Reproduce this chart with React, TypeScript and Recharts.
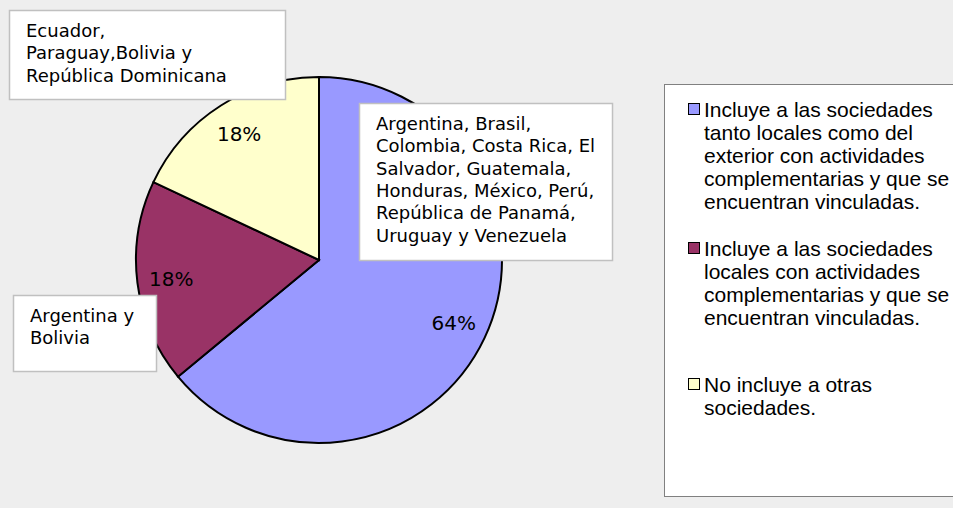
import { PieChart, Pie, Cell, Legend } from "recharts";

// Categories (legend text)
const categories = [
  "Incluye a las sociedades\ntanto locales como del\nexterior con actividades\ncomplementarias y que se\nencuentran vinculadas.",
  "Incluye a las sociedades\nlocales con actividades\ncomplementarias y que se\nencuentran vinculadas.",
  "No incluye a otras\nsociedades.",
];

// Share of countries (%)
const shares = [64, 18, 18];

// Country lists shown in the callout boxes
const countryLabels = [
  ["Argentina, Brasil,", "Colombia, Costa Rica, El", "Salvador, Guatemala,", "Honduras, México, Perú,", "República de Panamá,", "Uruguay y Venezuela"],
  ["Argentina y", "Bolivia"],
  ["Ecuador,", "Paraguay,Bolivia y", "República Dominicana"],
];

const COLORS = ["#9999ff", "#993366", "#ffffcc"];

// callout box placement, per slice
const BOXES = [
  { x: 359, y: 103, w: 253, h: 157 },
  { x: 13, y: 295, w: 143, h: 76 },
  { x: 9, y: 10, w: 276, h: 89 },
];

// spacing before each legend entry
const LEGEND_GAPS = [13, 24, 44];

const data = categories.map((name, i) => ({
  name,
  value: shares[i],
  countries: countryLabels[i],
}));

const RAD = Math.PI / 180;

const renderLabel = (props: any) => {
  const { cx, cy, midAngle, index, value } = props;
  const r = 149;
  const x = cx + r * Math.cos(-midAngle * RAD);
  const y = cy + r * Math.sin(-midAngle * RAD);
  const box = BOXES[index];
  const lines = data[index].countries;
  return (
    <g>
      <text
        x={x}
        y={y}
        textAnchor="middle"
        dominantBaseline="central"
        fill="#000"
        style={{ fontFamily: "DejaVu Sans", fontSize: 20 }}
      >
        {`${value}%`}
      </text>
      <rect x={box.x + 0.5} y={box.y + 0.5} width={box.w} height={box.h} fill="#fff" stroke="#c0c0c0" strokeWidth={1.5} />
      {lines.map((ln: string, k: number) => (
        <text
          key={k}
          x={box.x + 17}
          y={box.y + 27 + k * 22.3}
          fill="#000"
          style={{ fontFamily: "DejaVu Sans", fontSize: 18 }}
        >
          {ln}
        </text>
      ))}
    </g>
  );
};

const renderLegend = () => (
  <div
    style={{
      width: 289,
      height: 413,
      background: "#fff",
      borderTop: "1px solid #808080",
      borderLeft: "1px solid #808080",
      borderBottom: "1px solid #808080",
      boxSizing: "border-box",
      fontFamily: "'Liberation Sans', Arial, sans-serif",
      fontSize: 21,
      lineHeight: "23px",
      color: "#000",
    }}
  >
    {data.map((d, i) => (
      <div key={i} style={{ display: "flex", alignItems: "flex-start", marginTop: LEGEND_GAPS[i] }}>
        <div
          style={{
            width: 10,
            height: 10,
            marginTop: 5,
            marginLeft: 23,
            marginRight: 4,
            border: "1.5px solid #000",
            background: COLORS[i],
            flexShrink: 0,
          }}
        />
        <div style={{ whiteSpace: "pre-line" }}>{d.name}</div>
      </div>
    ))}
  </div>
);

export default function App() {
  return (
    <div
      style={{
        position: "absolute",
        left: 0,
        top: 0,
        width: 953,
        height: 508,
        background: "#eeeeee",
        overflow: "hidden",
      }}
    >
      <PieChart width={953} height={508} margin={{ top: 0, right: 0, bottom: 0, left: 0 }}>
        <Pie
          data={data}
          dataKey="value"
          nameKey="name"
          cx={319}
          cy={260}
          outerRadius={183}
          startAngle={90}
          endAngle={-270}
          stroke="#000"
          strokeWidth={2}
          label={renderLabel}
          labelLine={false}
          isAnimationActive={false}
        >
          {data.map((_, i) => (
            <Cell key={i} fill={COLORS[i]} />
          ))}
        </Pie>
        <Legend
          content={renderLegend}
          layout="vertical"
          verticalAlign="middle"
          align="right"
          wrapperStyle={{ left: 664, top: 84, right: "auto", width: 289 }}
        />
      </PieChart>
    </div>
  );
}
